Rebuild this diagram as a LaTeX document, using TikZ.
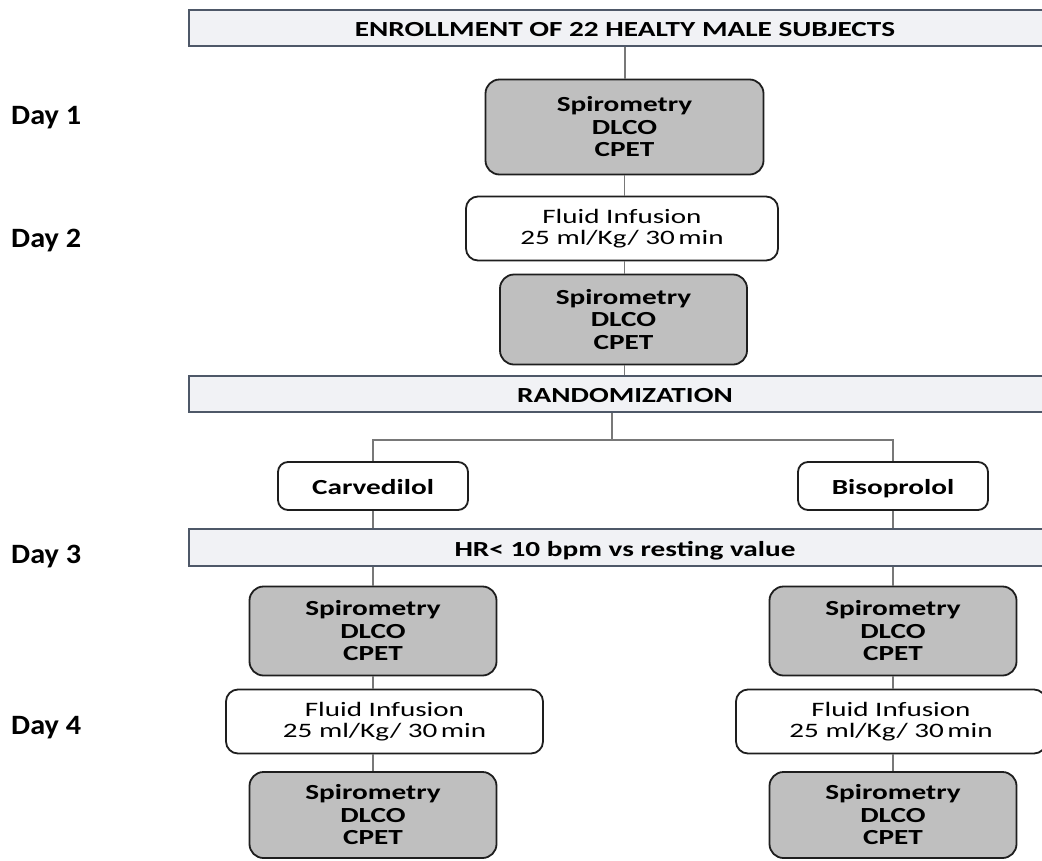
\documentclass[tikz,border=0pt]{standalone}
\usepackage{fontspec}
\setmainfont{Carlito}
\newfontfamily\boxfont{Carlito}[FakeStretch=1.36]
\newfontfamily\fluidfont{Carlito}[FakeStretch=1.42]
\newfontfamily\dayfont{Carlito}[FakeStretch=1.08]
\definecolor{linegray}{RGB}{120,120,120}
\definecolor{wideborder}{RGB}{78,88,104}
\definecolor{widefill}{RGB}{241,242,245}
\definecolor{spirofill}{RGB}{191,191,191}
\definecolor{boxborder}{RGB}{30,30,30}
\begin{document}
\begin{tikzpicture}[x=1pt,y=-1pt,
  conn/.style={draw=linegray, line width=1.3pt},
  widebox/.style={draw=wideborder, fill=widefill, line width=1.7pt, rectangle,
    minimum width=872pt, minimum height=36pt, inner sep=0pt,
    text height=17pt, text depth=0pt,
    font=\boxfont\fontsize{21.5}{25}\selectfont\bfseries},
  spirobox/.style={draw=boxborder, fill=spirofill, line width=1.8pt, rectangle,
    rounded corners=14pt, align=center, inner sep=0pt,
    font=\boxfont\fontsize{21.5}{22.5}\selectfont\bfseries},
  fluidbox/.style={draw=boxborder, fill=white, line width=1.8pt, rectangle,
    rounded corners=12pt, align=center, inner sep=0pt,
    font=\fluidfont\fontsize{20.5}{21.7}\selectfont},
  drugbox/.style={draw=boxborder, fill=white, line width=1.8pt, rectangle,
    rounded corners=10pt, align=center, inner sep=0pt,
    minimum height=48pt, minimum width=190pt,
    text height=17pt, text depth=0pt,
    font=\boxfont\fontsize{21.5}{25}\selectfont\bfseries},
  daylabel/.style={anchor=west, inner sep=0pt, font=\dayfont\fontsize{28}{32}\selectfont\bfseries}
]
\useasboundingbox (0,0) rectangle (1042,860);
\clip (0,0) rectangle (1042,860);
\fill[white] (0,0) rectangle (1042,860);

% day labels
\node[daylabel] (d1) at (11,118) {Day 1};
\node[daylabel] (d2) at (11,241) {Day 2};
\node[daylabel] (d3) at (11,557) {Day 3};
\node[daylabel] (d4) at (11,728) {Day 4};

% wide bars
\node[widebox] (top) at (625,28) {ENROLLMENT OF 22 HEALTY MALE SUBJECTS};
\node[widebox] (rand) at (625,394) {RANDOMIZATION};
\node[widebox, minimum height=37pt] (hr) at (625,547.5) {HR< 10 bpm vs resting value};

% central column
\node[spirobox, minimum width=278pt, minimum height=95pt] (s1) at (624.5,127) {Spirometry\\DLCO\\CPET};
\node[fluidbox, minimum width=312pt, minimum height=64pt] (f1) at (622,228.5) {Fluid Infusion\\25 ml/Kg/ 30\,min};
\node[spirobox, minimum width=247pt, minimum height=90pt] (s2) at (623.5,319.5) {Spirometry\\DLCO\\CPET};

% drugs
\node[drugbox] (carv) at (373,486) {Carvedilol};
\node[drugbox] (bis) at (893,486) {Bisoprolol};

% left column
\node[spirobox, minimum width=247pt, minimum height=89pt] (sl1) at (373,631) {Spirometry\\DLCO\\CPET};
\node[fluidbox, minimum width=317pt, minimum height=64pt] (fl) at (384.5,721.5) {Fluid Infusion\\25 ml/Kg/ 30\,min};
\node[spirobox, minimum width=247pt, minimum height=86pt] (sl2) at (373,815) {Spirometry\\DLCO\\CPET};

% right column
\node[spirobox, minimum width=247pt, minimum height=89pt] (sr1) at (893,631) {Spirometry\\DLCO\\CPET};
\node[fluidbox, minimum width=310pt, minimum height=64pt] (fr) at (891,721.5) {Fluid Infusion\\25 ml/Kg/ 30\,min};
\node[spirobox, minimum width=247pt, minimum height=86pt] (sr2) at (893,815) {Spirometry\\DLCO\\CPET};

% connectors
\coordinate (split) at (612,440);
\draw[conn] (top.south) -- (top.south |- s1.north);
\draw[conn] (s1.south) -- (s1.south |- f1.north);
\draw[conn] (f1.south -| s1.south) -- (s1.south |- s2.north);
\draw[conn] (s2.south -| s1.south) -- (s1.south |- rand.north);
\draw[conn] (rand.south -| split) -- (split);
\draw[conn] (carv.north) -- (carv.north |- split) -- (bis.north |- split) -- (bis.north);
\draw[conn] (carv.south) -- (carv.south |- hr.north);
\draw[conn] (bis.south) -- (bis.south |- hr.north);
\draw[conn] (hr.south -| sl1.north) -- (sl1.north);
\draw[conn] (hr.south -| sr1.north) -- (sr1.north);
\draw[conn] (sl1.south) -- (sl1.south |- fl.north);
\draw[conn] (fl.south -| sl1.south) -- (sl2.north);
\draw[conn] (sr1.south) -- (sr1.south |- fr.north);
\draw[conn] (fr.south -| sr1.south) -- (sr2.north);
\end{tikzpicture}
\end{document}
